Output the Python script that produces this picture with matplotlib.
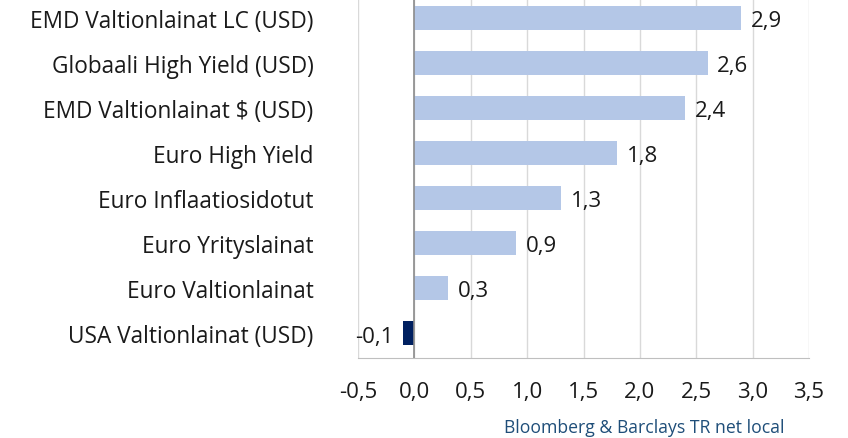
import matplotlib.pyplot as plt
import numpy as np

categories = ["EMD Valtionlainat LC (USD)", "Globaali High Yield (USD)",
              "EMD Valtionlainat $ (USD)", "Euro High Yield",
              "Euro Inflaatiosidotut", "Euro Yrityslainat",
              "Euro Valtionlainat", "USA Valtionlainat (USD)"]
values = [2.9, 2.6, 2.4, 1.8, 1.3, 0.9, 0.3, -0.1]
xticks = [-0.5, 0.0, 0.5, 1.0, 1.5, 2.0, 2.5, 3.0, 3.5]

plt.rcParams['font.family'] = ['Open Sans', 'DejaVu Sans']

fig = plt.figure(figsize=(8.48, 4.39), dpi=100)
# axes top runs a few pixels past the top of the figure, like the cropped original
ax = fig.add_axes([358 / 848, (439 - 358.6) / 439, (809 - 358) / 848, (358.6 + 5.6) / 439])

y = np.arange(len(categories))[::-1]
colors = ['#B4C7E7' if v >= 0 else '#002060' for v in values]
ax.barh(y, values, height=0.54, color=colors, zorder=3)

for yi, v in zip(y, values):
    txt = f"{v:.1f}".replace('.', ',')
    if v >= 0:
        ax.annotate(txt, (v, yi), xytext=(7, -2), textcoords='offset points',
                    ha='left', va='center', fontsize=16, color='#1a1a1a')
    else:
        ax.annotate(txt, (v, yi), xytext=(-7, -2), textcoords='offset points',
                    ha='right', va='center', fontsize=16, color='#1a1a1a')

ax.set_xlim(-0.5, 3.5)
ax.set_ylim(-0.54, len(categories) - 0.46)
ax.set_xticks(xticks)
ax.set_xticklabels([f"{t:.1f}".replace('.', ',') for t in xticks], fontsize=16, color='#1a1a1a')
ax.set_yticks(y)
ax.set_yticklabels(categories, fontsize=16.3, color='#1a1a1a')
ax.tick_params(length=0)
ax.tick_params(axis='x', pad=16.5)
ax.tick_params(axis='y', pad=32)

ax.grid(axis='x', color='#D9D9D9', linewidth=1, zorder=0)
ax.axvline(0, color='#8C8C8C', linewidth=1.2, zorder=4)
for s in ['top', 'left', 'right']:
    ax.spines[s].set_visible(False)
ax.spines['bottom'].set_color('#BFBFBF')

fig.text(644 / 848, 1 - 428 / 439, "Bloomberg & Barclays TR net local",
         ha='center', va='center', fontsize=12.7, color='#1F4E79')

plt.savefig('out.png', dpi=100)
